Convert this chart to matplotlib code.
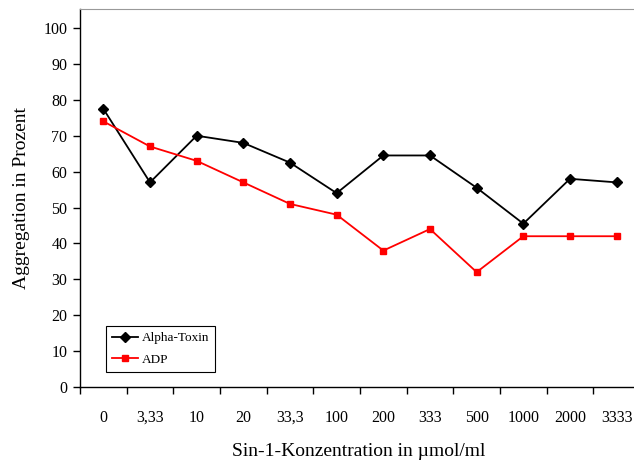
import matplotlib
matplotlib.use("Agg")
import matplotlib.pyplot as plt
import numpy as np

plt.rcParams['font.family'] = ['Liberation Serif', 'DejaVu Serif']

# Konzentrationen (Kategorien) und Messwerte
concentrations = ["0", "3,33", "10", "20", "33,3", "100", "200", "333", "500", "1000", "2000", "3333"]
alpha_toxin = [77.5, 57, 70, 68, 62.5, 54, 64.5, 64.5, 55.5, 45.5, 58, 57]
adp = [74, 67, 63, 57, 51, 48, 38, 44, 32, 42, 42, 42]

fig = plt.figure(figsize=(6.34, 4.61), dpi=100)
ax = fig.add_axes([80 / 634, 1 - 387 / 461, 560 / 634, 378 / 461])

x = np.arange(len(concentrations))
ax.plot(x, alpha_toxin, color="black", lw=1.3, marker="D", ms=5.5, label="Alpha-Toxin")
ax.plot(x, adp, color="red", lw=1.3, marker="s", ms=5, label="ADP")

ax.set_xlim(-0.5, len(concentrations) - 0.5)
ax.set_ylim(0, 105.3)
ax.set_yticks(range(0, 101, 10))

# ticks between categories, labels centred on categories
ax.set_xticks(np.arange(-0.5, len(concentrations), 1))
ax.set_xticklabels([])
ax.set_xticks(x, minor=True)
ax.set_xticklabels(concentrations, minor=True, va="baseline")
ax.tick_params(axis="x", which="minor", length=0, pad=25, labelsize=11.5)
ax.tick_params(axis="x", which="major", direction="out", length=5, width=1)
ax.tick_params(axis="y", direction="out", length=5, width=1, labelsize=11.5, pad=4)

ax.spines["top"].set_color("#999999")
ax.spines["right"].set_visible(False)
ax.spines["left"].set_linewidth(1)
ax.spines["bottom"].set_linewidth(1)

ax.set_xlabel("Sin-1-Konzentration in µmol/ml", fontsize=14)
ax.xaxis.set_label_coords(0.497, -0.148)
ax.set_ylabel("Aggregation in Prozent", fontsize=14, labelpad=10)

leg = ax.legend(loc="lower left", bbox_to_anchor=(0.046, 0.04), fontsize=9.5,
                frameon=True, fancybox=False, edgecolor="black", framealpha=1,
                handlelength=2.0, handletextpad=0.3, borderpad=0.45,
                labelspacing=0.7, borderaxespad=0)
leg.get_frame().set_linewidth(0.8)

fig.savefig("out.png", dpi=100)
